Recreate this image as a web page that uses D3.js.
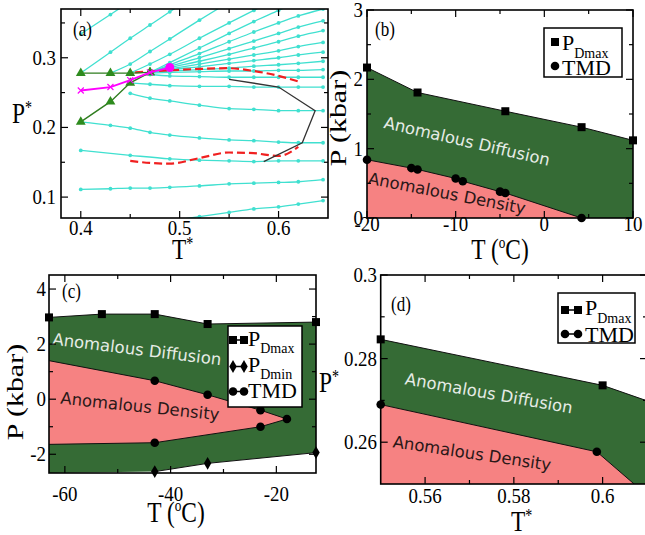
<!DOCTYPE html>
<html><head><meta charset="utf-8">
<script src="https://cdn.jsdelivr.net/npm/d3@7"></script>
<style>body{margin:0;background:#fff}svg{display:block}</style>
</head><body>
<svg id="c" width="645" height="535"></svg>
<script>
// ---------- DATA ----------
// Panel (a): isochores (T*, P*)
const isoA = [
 [[0.40,0.334],[0.43,0.362],[0.45,0.381]],
 [[0.40,0.278],[0.43,0.308],[0.45,0.328],[0.47,0.347],[0.49,0.366],[0.52,0.394]],
 [[0.43,0.278],[0.45,0.291],[0.47,0.309],[0.49,0.327],[0.52,0.354],[0.55,0.380]],
 [[0.45,0.278],[0.47,0.291],[0.49,0.305],[0.52,0.328],[0.55,0.350],[0.575,0.368],[0.60,0.386]],
 [[0.47,0.279],[0.49,0.293],[0.52,0.314],[0.55,0.335],[0.575,0.352],[0.60,0.368],[0.62,0.381]],
 [[0.47,0.279],[0.49,0.290],[0.52,0.306],[0.55,0.323],[0.575,0.337],[0.60,0.350],[0.62,0.360],[0.645,0.370]],
 [[0.47,0.279],[0.49,0.288],[0.52,0.300],[0.55,0.313],[0.575,0.324],[0.60,0.335],[0.62,0.344],[0.645,0.353]],
 [[0.47,0.279],[0.49,0.286],[0.52,0.295],[0.55,0.305],[0.575,0.314],[0.60,0.323],[0.62,0.331],[0.645,0.339]],
 [[0.47,0.279],[0.49,0.284],[0.52,0.291],[0.55,0.298],[0.575,0.304],[0.60,0.310],[0.62,0.316],[0.645,0.322]],
 [[0.47,0.279],[0.49,0.283],[0.52,0.287],[0.55,0.292],[0.575,0.296],[0.60,0.300],[0.62,0.304],[0.645,0.308]],
 [[0.47,0.279],[0.49,0.281],[0.52,0.283],[0.55,0.285],[0.575,0.288],[0.60,0.290],[0.62,0.292],[0.645,0.295]],
 [[0.47,0.278],[0.49,0.279],[0.52,0.280],[0.55,0.281],[0.575,0.281],[0.60,0.282],[0.62,0.282],[0.645,0.283]],
 [[0.47,0.276],[0.49,0.274],[0.52,0.273],[0.55,0.272],[0.575,0.272],[0.60,0.272],[0.62,0.272],[0.645,0.272]],
 [[0.45,0.264],[0.47,0.262],[0.49,0.260],[0.52,0.259],[0.55,0.259],[0.575,0.258],[0.60,0.258],[0.62,0.258],[0.645,0.258]],
 [[0.45,0.249],[0.47,0.242],[0.49,0.238],[0.52,0.232],[0.55,0.227],[0.575,0.226],[0.60,0.224],[0.62,0.224],[0.645,0.224]],
 [[0.40,0.208],[0.43,0.203],[0.45,0.199],[0.47,0.193],[0.49,0.189],[0.52,0.185],[0.55,0.182],[0.575,0.181],[0.60,0.179],[0.62,0.178],[0.645,0.178]],
 [[0.40,0.167],[0.45,0.160],[0.49,0.155],[0.52,0.153],[0.55,0.152],[0.575,0.151],[0.60,0.152],[0.62,0.152],[0.645,0.152]],
 [[0.40,0.111],[0.43,0.112],[0.45,0.113],[0.47,0.113],[0.49,0.114],[0.52,0.116],[0.55,0.119],[0.575,0.120],[0.60,0.121],[0.62,0.122],[0.645,0.125]],
 [[0.49,0.066],[0.52,0.072],[0.55,0.078],[0.575,0.083],[0.60,0.086],[0.62,0.090],[0.645,0.095]]
];
const triTopT = [0.40,0.43,0.45,0.47], triTopP = [0.278,0.278,0.278,0.279];
const triLowT = [0.40,0.43,0.45,0.47], triLowP = [0.208,0.237,0.264,0.279];
const magT = [0.40,0.43,0.45,0.47,0.49], magP = [0.253,0.258,0.268,0.279,0.286];
const redUpT = [0.455,0.49,0.52,0.55,0.575,0.60,0.62], redUpP = [0.279,0.282,0.284,0.285,0.281,0.274,0.266];
const redLowT = [0.45,0.47,0.49,0.52,0.55,0.575,0.60,0.62], redLowP = [0.152,0.149,0.148,0.156,0.164,0.163,0.159,0.172];
const blackT = [0.55,0.60,0.637,0.624,0.585], blackP = [0.269,0.258,0.224,0.178,0.151];

// Panel (b)
const bPdT = [-20,-14.3,-4.4,4.2,10], bPdP = [2.17,1.81,1.54,1.31,1.12];
const bTmdT = [-20,-15,-14.3,-10,-9.2,-5,-4.4,4.2], bTmdP = [0.84,0.72,0.70,0.57,0.53,0.38,0.36,0.0];

// Panel (c)
const cPdT = [-63,-53,-43,-33,-12.5], cPdP = [2.97,3.09,3.09,2.73,2.80];
const cPminT = [-43,-33,-12.5], cPminP = [-2.63,-2.33,-1.94];
const cTmdT = [-63,-43,-33,-23,-18,-23,-43,-63], cTmdP = [1.40,0.67,0.16,-0.40,-0.72,-1.00,-1.58,-1.64];
const cTmdMark = [false,true,true,true,true,true,true,false];
const cGreenCorner = [-63,-2.68];

// Panel (d)
const dPdT = [0.55,0.60,0.61], dPdP = [0.2846,0.2736,0.2699];
const dPdMark = [true,true,false];
const dTmdT = [0.55,0.5987,0.6071], dTmdP = [0.269,0.2577,0.25];
const dTmdMark = [true,true,false];

// Ticks
const aXTicks=[0.4,0.5,0.6], aXMinor=[0.45,0.55], aYTicks=[0.1,0.2,0.3], aYMinor=[0.15,0.25,0.35];
const bXTicks=[-20,-10,0,10], bXMinor=[-15,-5,5], bYTicks=[0,1,2,3], bYMinor=[0.5,1.5,2.5];
const cXTicks=[-60,-40,-20], cXMinor=[-50,-30], cYTicks=[-2,0,2,4], cYMinor=[-1,1,3];
const dXTicks=[0.56,0.58,0.6], dXMinor=[0.57,0.59], dYTicks=[0.26,0.28,0.3], dYMinor=[0.27,0.29];

// ---------- DRAW ----------
const svg = d3.select("#c");
const SERIF = "'Liberation Serif','Times New Roman',serif";
const SANS = "'DejaVu Sans',sans-serif";
const TEAL = "#40e0d0", GREEN = "#356b35", PINK = "#f68282";
const zip = (a,b) => a.map((v,i)=>[v,b[i]]);
let clipId = 0;

function makePanel(x0,x1,y0,y1,xd,yd){
  const g = svg.append("g");
  const x = d3.scaleLinear().domain(xd).range([x0,x1]);
  const y = d3.scaleLinear().domain(yd).range([y1,y0]);
  const id = "clip"+(clipId++);
  svg.append("clipPath").attr("id",id).append("rect").attr("x",x0).attr("y",y0).attr("width",x1-x0).attr("height",y1-y0);
  const inner = g.append("g").attr("clip-path",`url(#${id})`);
  return {g,inner,x,y,x0,x1,y0,y1};
}
function txt(g,x,y,parts,o){
  const t = g.append("text")
    .attr("transform",`translate(${x},${y}) scale(${o.sx||1},1)`+(o.rot?` rotate(${o.rot})`:""))
    .attr("font-family",o.family||SERIF).attr("font-size",o.size)
    .attr("text-anchor",o.anchor||"start").attr("fill",o.fill||"#000");
  if(o.db) t.attr("dominant-baseline",o.db);
  parts.forEach(p=>{
    const ts = t.append("tspan").text(p.t);
    if(p.dy) ts.attr("dy",p.dy);
    if(p.size) ts.attr("font-size",p.size);
  });
  return t;
}
function axes(p,xt,xm,yt,ym,o){
  const {g,x,y,x0,x1,y0,y1}=p;
  const tk = g.append("g").attr("stroke","#000").attr("stroke-width",1.2);
  const L=7,l=4;
  xt.forEach(v=>{const X=x(v);tk.append("line").attr("x1",X).attr("x2",X).attr("y1",y1).attr("y2",y1-L);tk.append("line").attr("x1",X).attr("x2",X).attr("y1",y0).attr("y2",y0+L);});
  xm.forEach(v=>{const X=x(v);tk.append("line").attr("x1",X).attr("x2",X).attr("y1",y1).attr("y2",y1-l);tk.append("line").attr("x1",X).attr("x2",X).attr("y1",y0).attr("y2",y0+l);});
  yt.forEach(v=>{const Y=y(v);tk.append("line").attr("x1",x0).attr("x2",x0+L).attr("y1",Y).attr("y2",Y);tk.append("line").attr("x1",x1).attr("x2",x1-L).attr("y1",Y).attr("y2",Y);});
  ym.forEach(v=>{const Y=y(v);tk.append("line").attr("x1",x0).attr("x2",x0+l).attr("y1",Y).attr("y2",Y);tk.append("line").attr("x1",x1).attr("x2",x1-l).attr("y1",Y).attr("y2",Y);});
  g.append("rect").attr("x",x0).attr("y",y0).attr("width",x1-x0).attr("height",y1-y0)
    .attr("fill","none").attr("stroke","#000").attr("stroke-width",1.6);
  xt.forEach(v=>txt(g,x(v),o.xLabY,[{t:String(v)}],{size:21,sx:0.9,anchor:"middle"}));
  yt.forEach(v=>txt(g,o.yLabX,y(v)+7,[{t:String(v)}],{size:21,sx:0.9,anchor:"end"}));
}
function square(g,X,Y,s){g.append("rect").attr("x",X-s/2).attr("y",Y-s/2).attr("width",s).attr("height",s).attr("fill","#000");}
function circ(g,X,Y,r){g.append("circle").attr("cx",X).attr("cy",Y).attr("r",r).attr("fill","#000");}
function diamond(g,X,Y,s){g.append("path").attr("d",d3.symbol(d3.symbolDiamond,s)()).attr("transform",`translate(${X},${Y})`).attr("fill","#000");}
function tUnit(g,cx,y){ // "T (°C)"
  txt(g,cx,y,[{t:"T ("},{t:"o",size:17,dy:-11},{t:"C)",dy:11}],{size:30,sx:0.78,anchor:"middle"});
}
function legendBox(g,x,y,w,h){g.append("rect").attr("x",x).attr("y",y).attr("width",w).attr("height",h).attr("fill","#fff").attr("stroke","#000").attr("stroke-width",1.5);}

// ===== Panel (a) =====
{
  const p = makePanel(61,328,9,218,[0.38,0.65],[0.07,0.37]);
  const {inner,x,y}=p;
  const line = d3.line().x(d=>x(d[0])).y(d=>y(d[1])).curve(d3.curveMonotoneX);
  isoA.forEach(iso=>{
    inner.append("path").attr("d",line(iso)).attr("fill","none").attr("stroke",TEAL).attr("stroke-width",1.3);
    iso.forEach(d=>inner.append("circle").attr("cx",x(d[0])).attr("cy",y(d[1])).attr("r",1.9).attr("fill",TEAL));
  });
  const lin = d3.line().x(d=>x(d[0])).y(d=>y(d[1]));
  // red dashed
  inner.append("path").attr("d",line(zip(redUpT,redUpP))).attr("fill","none").attr("stroke","#f02020").attr("stroke-width",2.2).attr("stroke-dasharray","8,4");
  inner.append("path").attr("d",line(zip(redLowT,redLowP))).attr("fill","none").attr("stroke","#f02020").attr("stroke-width",2.2).attr("stroke-dasharray","8,4");
  // black
  inner.append("path").attr("d",lin(zip(blackT,blackP))).attr("fill","none").attr("stroke","#333").attr("stroke-width",1.3);
  // green triangles
  const tri = d3.symbol(d3.symbolTriangle,42);
  [zip(triTopT,triTopP),zip(triLowT,triLowP)].forEach(s=>{
    inner.append("path").attr("d",lin(s)).attr("fill","none").attr("stroke","#2f7d1f").attr("stroke-width",1.4);
    s.forEach(d=>inner.append("path").attr("d",tri()).attr("transform",`translate(${x(d[0])},${y(d[1])})`).attr("fill","#2e8b1e"));
  });
  // magenta
  const mg = zip(magT,magP);
  inner.append("path").attr("d",lin(mg)).attr("fill","none").attr("stroke","#ff00ff").attr("stroke-width",1.8);
  mg.slice(0,-1).forEach(d=>{
    const X=x(d[0]),Y=y(d[1]);
    inner.append("path").attr("d",`M${X-3},${Y-3}L${X+3},${Y+3}M${X-3},${Y+3}L${X+3},${Y-3}`).attr("stroke","#ff00ff").attr("stroke-width",1.2);
  });
  const last = mg[mg.length-1];
  inner.append("circle").attr("cx",x(last[0])).attr("cy",y(last[1])).attr("r",4.5).attr("fill","#ff00ff");
  axes(p,aXTicks,aXMinor,aYTicks,aYMinor,{xLabY:235,yLabX:56});
  txt(p.g,73,36,[{t:"(a)"}],{size:20,sx:0.85});
  txt(p.g,12,123,[{t:"P"},{t:"*",size:18,dy:-9}],{size:30,sx:0.78});
  txt(p.g,172,259,[{t:"T"},{t:"*",size:18,dy:-9}],{size:30,sx:0.78});
}

// ===== Panel (b) =====
{
  const p = makePanel(367,633,10,218,[-20,10],[0,3]);
  const {inner,g,x,y}=p;
  const pd = zip(bPdT,bPdP), tm = zip(bTmdT,bTmdP);
  const area = d3.area().x(d=>x(d[0])).y0(y(0)).y1(d=>y(d[1]));
  const lin = d3.line().x(d=>x(d[0])).y(d=>y(d[1]));
  inner.append("path").attr("d",area(pd)).attr("fill",GREEN);
  inner.append("path").attr("d",area(tm)).attr("fill",PINK);
  inner.append("path").attr("d",lin(pd)).attr("fill","none").attr("stroke","#111").attr("stroke-width",1);
  inner.append("path").attr("d",lin(tm)).attr("fill","none").attr("stroke","#111").attr("stroke-width",1);
  txt(g,467,141,[{t:"Anomalous Diffusion"}],{size:16.5,family:SANS,fill:"#e6ece6",anchor:"middle",rot:13,db:"central"});
  txt(g,447,193,[{t:"Anomalous Density"}],{size:16.5,family:SANS,fill:"#2a1818",anchor:"middle",rot:11,db:"central"});
  pd.forEach(d=>square(g,x(d[0]),y(d[1]),8));
  tm.forEach(d=>circ(g,x(d[0]),y(d[1]),4.3));
  axes(p,bXTicks,bXMinor,bYTicks,bYMinor,{xLabY:231,yLabX:363});
  txt(g,375,36,[{t:"(b)"}],{size:20,sx:0.85});
  txt(g,346,118,[{t:"P (kbar)"}],{size:30,sx:0.78,rot:-90,anchor:"middle"});
  tUnit(g,500,259);
  legendBox(g,544,28,78,49);
  square(g,555,42,8); circ(g,555,66,4.3);
  txt(g,562,50,[{t:"P"},{t:"Dmax",size:14,dy:8}],{size:22});
  txt(g,562,75,[{t:"TMD"}],{size:22});
}

// ===== Panel (c) =====
{
  const p = makePanel(49,316,275,473,[-63,-12.5],[-2.68,4.51]);
  const {inner,g,x,y}=p;
  const lin = d3.line().x(d=>x(d[0])).y(d=>y(d[1]));
  const pd = zip(cPdT,cPdP), pm = zip(cPminT,cPminP), tm = zip(cTmdT,cTmdP);
  const greenPoly = pd.concat(pm.slice().reverse(),[cGreenCorner]);
  inner.append("path").attr("d",lin(greenPoly)+"Z").attr("fill",GREEN);
  inner.append("path").attr("d",lin(tm)+"Z").attr("fill",PINK);
  [pd,pm,tm].forEach(s=>inner.append("path").attr("d",lin(s)).attr("fill","none").attr("stroke","#111").attr("stroke-width",1));
  txt(g,137,349,[{t:"Anomalous Diffusion"}],{size:16.5,family:SANS,fill:"#e6ece6",anchor:"middle",rot:7,db:"central"});
  txt(g,140,406,[{t:"Anomalous Density"}],{size:16.5,family:SANS,fill:"#2a1818",anchor:"middle",rot:6,db:"central"});
  pd.forEach(d=>square(g,x(d[0]),y(d[1]),8));
  pm.forEach(d=>diamond(g,x(d[0]),y(d[1]),48));
  tm.forEach((d,i)=>{ if(cTmdMark[i]) circ(g,x(d[0]),y(d[1]),4.3); });
  axes(p,cXTicks,cXMinor,cYTicks,cYMinor,{xLabY:501,yLabX:46});
  txt(g,62,298,[{t:"(c)"}],{size:20,sx:0.85});
  txt(g,23,392,[{t:"P (kbar)"}],{size:30,sx:0.78,rot:-90,anchor:"middle"});
  tUnit(g,176,522);
  legendBox(g,228,326,74,81);
  const rows=[340,366.5,391.5];
  g.append("line").attr("x1",233).attr("x2",244).attr("y1",rows[0]).attr("y2",rows[0]).attr("stroke","#000").attr("stroke-width",1.5);
  square(g,233,rows[0],8); square(g,244,rows[0],8);
  g.append("line").attr("x1",233).attr("x2",244).attr("y1",rows[1]).attr("y2",rows[1]).attr("stroke","#000").attr("stroke-width",1.5);
  diamond(g,233,rows[1],48); diamond(g,244,rows[1],48);
  g.append("line").attr("x1",233).attr("x2",244).attr("y1",rows[2]).attr("y2",rows[2]).attr("stroke","#000").attr("stroke-width",1.5);
  circ(g,233,rows[2],4.3); circ(g,244,rows[2],4.3);
  txt(g,248,346,[{t:"P"},{t:"Dmax",size:14,dy:7}],{size:22});
  txt(g,248,372,[{t:"P"},{t:"Dmin",size:14,dy:7}],{size:22});
  txt(g,248,398,[{t:"TMD"}],{size:22});
}

// ===== Panel (d) =====
{
  const p = makePanel(380.7,647,275,484,[0.55,0.61],[0.25,0.30]);
  const {inner,g,x,y}=p;
  const lin = d3.line().x(d=>x(d[0])).y(d=>y(d[1]));
  const area = d3.area().x(d=>x(d[0])).y0(y(0.25)).y1(d=>y(d[1]));
  const pd = zip(dPdT,dPdP), tm = zip(dTmdT,dTmdP);
  inner.append("path").attr("d",area(pd)).attr("fill",GREEN);
  inner.append("path").attr("d",area(tm)).attr("fill",PINK);
  [pd,tm].forEach(s=>inner.append("path").attr("d",lin(s)).attr("fill","none").attr("stroke","#111").attr("stroke-width",1));
  txt(g,489,393,[{t:"Anomalous Diffusion"}],{size:16.5,family:SANS,fill:"#e6ece6",anchor:"middle",rot:10,db:"central"});
  txt(g,472,453,[{t:"Anomalous Density"}],{size:16.5,family:SANS,fill:"#2a1818",anchor:"middle",rot:8.5,db:"central"});
  pd.forEach((d,i)=>{ if(dPdMark[i]) square(g,x(d[0]),y(d[1]),8); });
  tm.forEach((d,i)=>{ if(dTmdMark[i]) circ(g,x(d[0]),y(d[1]),4.3); });
  axes(p,dXTicks,dXMinor,dYTicks,dYMinor,{xLabY:503,yLabX:377});
  txt(g,391,311,[{t:"(d)"}],{size:20,sx:0.85});
  txt(g,319,392,[{t:"P"},{t:"*",size:18,dy:-9}],{size:30,sx:0.78});
  txt(g,511,531,[{t:"T"},{t:"*",size:18,dy:-9}],{size:30,sx:0.78});
  legendBox(g,558,293,77,50);
  g.append("line").attr("x1",565).attr("x2",578).attr("y1",310).attr("y2",310).attr("stroke","#000").attr("stroke-width",1.5);
  square(g,565,310,8); square(g,578,310,8);
  g.append("line").attr("x1",565).attr("x2",578).attr("y1",334).attr("y2",334).attr("stroke","#000").attr("stroke-width",1.5);
  circ(g,565,334,4.3); circ(g,578,334,4.3);
  txt(g,585,315,[{t:"P"},{t:"Dmax",size:14,dy:8}],{size:22});
  txt(g,585,342,[{t:"TMD"}],{size:22});
}
</script>
</body></html>
